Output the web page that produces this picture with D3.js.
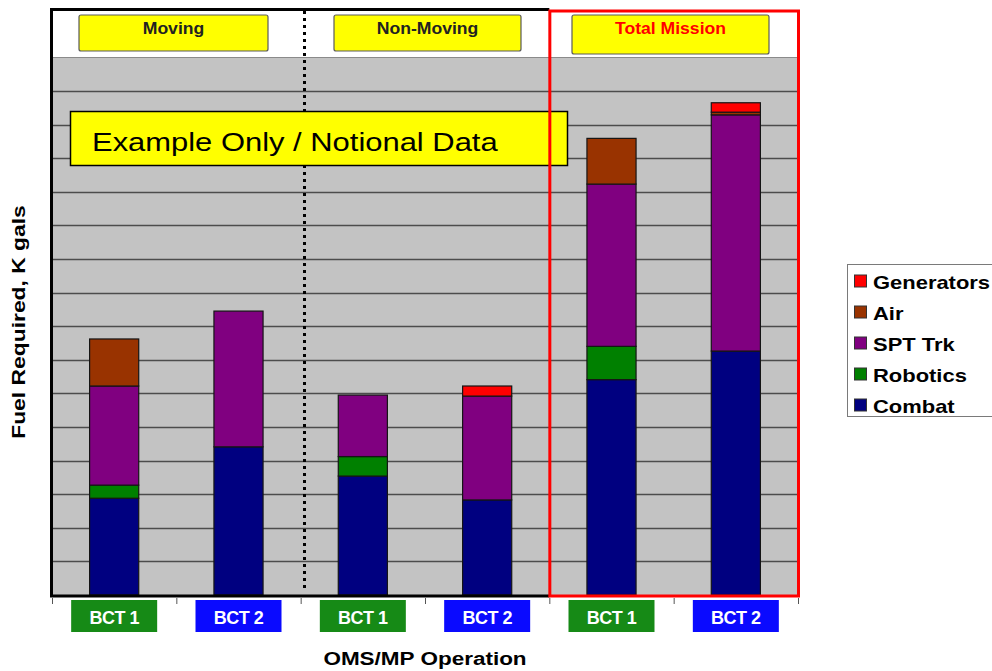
<!DOCTYPE html>
<html>
<head>
<meta charset="utf-8">
<script src="https://cdn.jsdelivr.net/npm/d3@7"></script>
<style>
  html, body { margin: 0; padding: 0; background: #ffffff; }
  svg { display: block; font-family: "Liberation Sans", Arial, sans-serif; }
</style>
</head>
<body>
<svg id="chart" width="992" height="671"></svg>
<script>
// Operation groups and the bars inside them
const groups = ["Moving", "Non-Moving", "Total Mission"];
const barIds = ["mov-1", "mov-2", "non-1", "non-2", "tot-1", "tot-2"];
const barLabels = ["BCT 1", "BCT 2", "BCT 1", "BCT 2", "BCT 1", "BCT 2"];
const barTeam = ["BCT 1", "BCT 2", "BCT 1", "BCT 2", "BCT 1", "BCT 2"];

// Fuel required (K gals) per consumer, one value per bar
const combat     = [2.88, 4.41, 3.54, 2.83, 6.41, 7.26];
const robotics   = [0.39, 0.00, 0.58, 0.00, 0.99, 0.00];
const sptTrk     = [2.95, 4.04, 1.83, 3.09, 4.83, 7.03];
const air        = [1.40, 0.00, 0.00, 0.00, 1.36, 0.08];
const generators = [0.00, 0.00, 0.00, 0.30, 0.00, 0.28];

const seriesKeys = ["Combat", "Robotics", "SPT Trk", "Air", "Generators"];
const seriesColors = ["#000080", "#008000", "#800080", "#993300", "#ff0000"];
const legendOrder = ["Generators", "Air", "SPT Trk", "Robotics", "Combat"];

const yMax = 16;
const noteText = "Example Only / Notional Data";
const xTitle = "OMS/MP Operation";
const yTitle = "Fuel Required, K gals";

// Table for d3.stack built from the arrays above
const table = barIds.map((id, i) => ({
  id,
  "Combat": combat[i],
  "Robotics": robotics[i],
  "SPT Trk": sptTrk[i],
  "Air": air[i],
  "Generators": generators[i]
}));

const svg = d3.select("#chart");
const FONT = '"Liberation Sans", Arial, sans-serif';

// Plot geometry
const plot = { left: 52, right: 798, top: 57.4, bottom: 595 };

const x = d3.scaleBand().domain(barIds).range([plot.left, plot.right]).padding(0);
const y = d3.scaleLinear().domain([0, yMax]).range([plot.bottom, plot.top]);
const color = d3.scaleOrdinal().domain(seriesKeys).range(seriesColors);
const barW = x.bandwidth() * 0.395;

// Places a text with a horizontal stretch along its writing direction
function stretchedText(sel, txt, px, py, opts) {
  const o = Object.assign({ size: 16, weight: "bold", fill: "#000", anchor: "middle", sx: 1, rot: 0 }, opts || {});
  return sel.append("text")
    .attr("transform", `translate(${px},${py}) rotate(${o.rot}) scale(${o.sx},1)`)
    .attr("text-anchor", o.anchor)
    .attr("font-family", FONT)
    .attr("font-size", o.size)
    .attr("font-weight", o.weight)
    .attr("fill", o.fill)
    .attr("letter-spacing", o.ls || 0)
    .text(txt);
}

// Gray plotting field
svg.append("rect")
  .attr("x", plot.left + 1).attr("y", y(yMax))
  .attr("width", plot.right - plot.left - 2).attr("height", plot.bottom - y(yMax))
  .attr("fill", "#c3c3c3");

// Horizontal gridlines
svg.append("g")
  .selectAll("line")
  .data(d3.range(1, yMax + 1))
  .join("line")
  .attr("x1", plot.left + 1).attr("x2", plot.right - 1)
  .attr("y1", d => Math.round(y(d)) + 0.5).attr("y2", d => Math.round(y(d)) + 0.5)
  .attr("stroke", d => d === yMax ? "#8a8a8a" : "#4c4c4c")
  .attr("stroke-width", d => d === yMax ? 1 : 1.6);

// Stacked bars
const stacked = d3.stack().keys(seriesKeys)(table);
svg.append("g")
  .selectAll("g")
  .data(stacked)
  .join("g")
  .attr("fill", d => color(d.key))
  .selectAll("rect")
  .data(d => d.filter(s => s[1] - s[0] > 0))
  .join("rect")
  .attr("x", d => x(d.data.id) + (x.bandwidth() - barW) / 2)
  .attr("y", d => y(d[1]))
  .attr("width", barW)
  .attr("height", d => y(d[0]) - y(d[1]))
  .attr("stroke", "#151515")
  .attr("stroke-width", 1.2);

// Dotted divider between Moving and Non-Moving
svg.append("line")
  .attr("x1", 304.5).attr("x2", 304.5)
  .attr("y1", 11).attr("y2", 592)
  .attr("stroke", "#000")
  .attr("stroke-width", 3)
  .attr("stroke-dasharray", "3,4");

// Header boxes above each group
const headerBoxes = [
  { name: groups[0], x0: 79, x1: 268, y0: 15, y1: 51, fill: "#222" },
  { name: groups[1], x0: 334, x1: 521, y0: 15, y1: 51, fill: "#222" },
  { name: groups[2], x0: 572, x1: 769, y0: 15, y1: 54, fill: "#ff0000" }
];
const hb = svg.append("g");
headerBoxes.forEach(b => {
  hb.append("rect")
    .attr("x", b.x0).attr("y", b.y0)
    .attr("width", b.x1 - b.x0).attr("height", b.y1 - b.y0)
    .attr("rx", 2)
    .attr("fill", "#ffff00")
    .attr("stroke", "#5a5a5a").attr("stroke-width", 1.2);
  stretchedText(hb, b.name, (b.x0 + b.x1) / 2, 33.5, { size: 16, sx: 1.1, fill: b.fill });
});

// Notional-data banner
svg.append("rect")
  .attr("x", 70.5).attr("y", 111.5)
  .attr("width", 497).attr("height", 54)
  .attr("fill", "#ffff00")
  .attr("stroke", "#000").attr("stroke-width", 1.5);
stretchedText(svg, noteText, 92, 151, { size: 26, weight: "normal", anchor: "start", sx: 1.19 });

// Black frame around Moving / Non-Moving
svg.append("path")
  .attr("d", `M${plot.left - 0.5},597 V9.5 H${x("tot-1")}`)
  .attr("fill", "none").attr("stroke", "#000").attr("stroke-width", 3);
svg.append("line")
  .attr("x1", plot.left - 2).attr("x2", x("tot-1"))
  .attr("y1", 596).attr("y2", 596)
  .attr("stroke", "#000").attr("stroke-width", 3);

// Red frame around Total Mission
svg.append("rect")
  .attr("x", x("tot-1") + 0.5).attr("y", 11)
  .attr("width", plot.right - x("tot-1")).attr("height", 585)
  .attr("fill", "none")
  .attr("stroke", "#ff0000").attr("stroke-width", 3);

// Category ticks under the axis
svg.append("g")
  .selectAll("line")
  .data(barIds.map(id => x(id)).concat([plot.right]))
  .join("line")
  .attr("x1", d => d + 0.5).attr("x2", d => d + 0.5)
  .attr("y1", 598).attr("y2", 604)
  .attr("stroke", "#555").attr("stroke-width", 1);

// Bar labels (team tags)
const tagW = 86, tagH = 32;
const tags = svg.append("g");
barIds.forEach((id, i) => {
  const cx = x(id) + x.bandwidth() / 2;
  tags.append("rect")
    .attr("x", cx - tagW / 2).attr("y", 600)
    .attr("width", tagW).attr("height", tagH)
    .attr("fill", barTeam[i] === "BCT 1" ? "#168a16" : "#0a0aff");
  stretchedText(tags, barLabels[i], cx, 624, { size: 18, fill: "#ffffff", ls: -0.5 });
});

// Axis titles
stretchedText(svg, xTitle, 425, 665, { size: 18, sx: 1.25 });
stretchedText(svg, yTitle, 25, 322, { size: 18, sx: 1.27, rot: -90 });

// Legend
const lg = svg.append("g");
lg.append("rect")
  .attr("x", 847.5).attr("y", 264.5)
  .attr("width", 160).attr("height", 152)
  .attr("fill", "#ffffff")
  .attr("stroke", "#7a7a7a").attr("stroke-width", 1);
legendOrder.forEach((k, i) => {
  const cy = 281.5 + i * 31;
  lg.append("rect")
    .attr("x", 854.5).attr("y", cy - 6.5)
    .attr("width", 12).attr("height", 12)
    .attr("fill", color(k))
    .attr("stroke", "#333").attr("stroke-width", 1);
  stretchedText(lg, k, 873, cy + 7, { size: 18, anchor: "start", sx: 1.22 });
});
</script>
</body>
</html>
